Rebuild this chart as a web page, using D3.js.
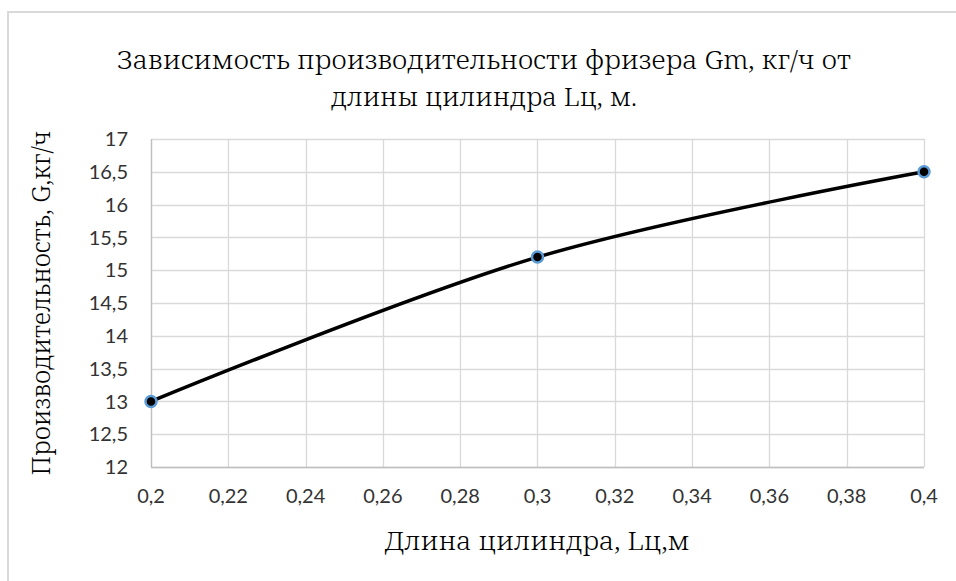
<!DOCTYPE html>
<html>
<head>
<meta charset="utf-8">
<script src="https://cdn.jsdelivr.net/npm/d3@7"></script>
<style>
  html, body { margin: 0; padding: 0; background: #fff; }
  svg { display: block; }
</style>
</head>
<body>
<svg id="chart" width="956" height="581"></svg>
<script>
// ---- Data ----
const lengths = [0.2, 0.3, 0.4];          // Длина цилиндра, Lц, м
const productivity = [13, 15.2, 16.5];    // Производительность, G, кг/ч
const xTicks = [0.2, 0.22, 0.24, 0.26, 0.28, 0.3, 0.32, 0.34, 0.36, 0.38, 0.4];
const yTicks = [12, 12.5, 13, 13.5, 14, 14.5, 15, 15.5, 16, 16.5, 17];
const titleLines = ["Зависимость производительности фризера Gm, кг/ч от", "длины цилиндра Lц, м."];
const xTitle = "Длина цилиндра, Lц,м";
const yTitle = "Производительность, G,кг/ч";

const svg = d3.select("#chart");
const W = 956, H = 581;
const plot = { left: 151, right: 924, top: 139, bottom: 467 };

svg.append("rect").attr("width", W).attr("height", H).attr("fill", "#fff");
// chart frame (right/bottom edges fall outside the picture)
svg.append("rect").attr("x", 8).attr("y", 12).attr("width", 1000).attr("height", 1000)
  .attr("fill", "none").attr("stroke", "#d9d9d9").attr("stroke-width", 2);

const fmt = v => String(v).replace(".", ",");

const x = d3.scaleLinear().domain([0.2, 0.4]).range([plot.left, plot.right]);
const y = d3.scaleLinear().domain([12, 17]).range([plot.bottom, plot.top]);

// gridlines
const g = svg.append("g");
g.selectAll("line.h").data(yTicks).join("line")
  .attr("x1", plot.left).attr("x2", plot.right)
  .attr("y1", d => Math.round(y(d)) + 0.5).attr("y2", d => Math.round(y(d)) + 0.5)
  .attr("stroke", "#d9d9d9").attr("stroke-width", 1.3);
g.selectAll("line.v").data(xTicks).join("line")
  .attr("y1", plot.top).attr("y2", plot.bottom)
  .attr("x1", d => Math.round(x(d)) + 0.5).attr("x2", d => Math.round(x(d)) + 0.5)
  .attr("stroke", "#d9d9d9").attr("stroke-width", 1.3);

// axes lines
svg.append("line").attr("x1", plot.left).attr("x2", plot.right)
  .attr("y1", Math.round(y(12)) + 0.5).attr("y2", Math.round(y(12)) + 0.5)
  .attr("stroke", "#bfbfbf").attr("stroke-width", 1.3);
svg.append("line").attr("y1", plot.top).attr("y2", plot.bottom)
  .attr("x1", Math.round(x(0.2)) + 0.5).attr("x2", Math.round(x(0.2)) + 0.5)
  .attr("stroke", "#bfbfbf").attr("stroke-width", 1.3);

// tick labels
const tickFont = "Lato, 'Open Sans', sans-serif";
svg.append("g").selectAll("text").data(yTicks).join("text")
  .attr("x", 128).attr("y", d => y(d)).attr("dy", "0.36em")
  .attr("text-anchor", "end").attr("font-family", tickFont).attr("font-size", 20)
  .attr("fill", "#333").text(fmt);
svg.append("g").selectAll("text").data(xTicks).join("text")
  .attr("x", d => x(d)).attr("y", 496).attr("dy", "0.36em")
  .attr("text-anchor", "middle").attr("font-family", tickFont).attr("font-size", 20)
  .attr("fill", "#333").text(fmt);

// series line (smoothed)
const pts = lengths.map((l, i) => [l, productivity[i]]);
const line = d3.line().x(d => x(d[0])).y(d => y(d[1])).curve(d3.curveCardinal.tension(0));
svg.append("path").datum(pts).attr("d", line)
  .attr("fill", "none").attr("stroke", "#000").attr("stroke-width", 3.5)
  .attr("stroke-linecap", "round");
svg.append("g").selectAll("circle").data(pts).join("circle")
  .attr("cx", d => x(d[0])).attr("cy", d => y(d[1])).attr("r", 5.5)
  .attr("fill", "#000").attr("stroke", "#5b9bd5").attr("stroke-width", 2.5);

// titles
const serif = "'Noto Serif', 'DejaVu Serif', serif";
const titleLens = [734, 306];
svg.append("g").selectAll("text").data(titleLines).join("text")
  .attr("x", 484).attr("y", (d, i) => 69 + i * 37)
  .attr("text-anchor", "middle").attr("font-family", serif).attr("font-size", 26)
  .attr("font-weight", 300)
  .attr("textLength", (d, i) => titleLens[i]).attr("lengthAdjust", "spacingAndGlyphs")
  .attr("fill", "#000").text(d => d);
svg.append("text").attr("x", 537).attr("y", 550)
  .attr("text-anchor", "middle").attr("font-family", serif).attr("font-size", 25)
  .attr("font-weight", 300)
  .attr("textLength", 305).attr("lengthAdjust", "spacingAndGlyphs")
  .attr("fill", "#000").text(xTitle);
svg.append("text").attr("transform", "translate(50,303) rotate(-90)")
  .attr("text-anchor", "middle").attr("font-family", serif).attr("font-size", 25)
  .attr("font-weight", 300)
  .attr("textLength", 345).attr("lengthAdjust", "spacingAndGlyphs")
  .attr("fill", "#000").text(yTitle);
</script>
</body>
</html>
